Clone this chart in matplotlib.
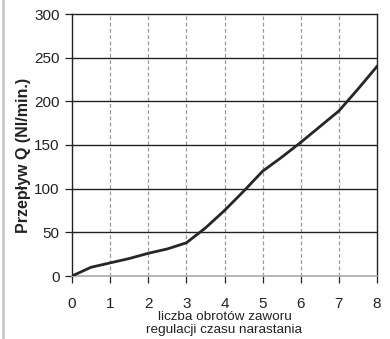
import matplotlib
matplotlib.use("Agg")
import matplotlib.pyplot as plt
from matplotlib.lines import Line2D

plt.rcParams['font.family'] = ['Liberation Sans', 'DejaVu Sans']

obroty = [0, 0.5, 1, 1.5, 2, 2.5, 3, 3.5, 4, 4.5, 5, 5.5, 6, 6.5, 7, 7.5, 8]
przeplyw = [0, 10, 15, 20, 26, 31, 38, 55, 75, 97, 120, 136, 153, 171, 189, 214, 240]
x_ticks = [0, 1, 2, 3, 4, 5, 6, 7, 8]
y_ticks = [0, 50, 100, 150, 200, 250, 300]

fig = plt.figure(figsize=(3.9, 3.39), dpi=100)
ax = fig.add_axes([72/390, 63/339, 305/390, 262/339])

ax.set_xlim(0, 8)
ax.set_ylim(0, 300)
for xv in x_ticks[1:-1]:
    ax.axvline(xv, color='#9a9a9a', lw=0.9, ls=(0, (3, 2)), zorder=1)
for yv in y_ticks[1:-1]:
    ax.axhline(yv, color='#222222', lw=1.0, zorder=1)

ax.plot(obroty, przeplyw, color='#262626', lw=2.0, zorder=3, solid_joinstyle='round')

ax.set_xticks(x_ticks)
ax.set_yticks(y_ticks)
ax.tick_params(axis='both', direction='out', length=5, width=0.9, colors='#222222',
               labelsize=11, labelcolor='#222222')
ax.tick_params(axis='x', pad=10)
ax.tick_params(axis='y', pad=4)

for side in ['left', 'right', 'top']:
    ax.spines[side].set_color('#222222')
    ax.spines[side].set_linewidth(1.0)
ax.spines['bottom'].set_color('#aaaaaa')
ax.spines['bottom'].set_linewidth(1.2)

ax.set_xlabel('liczba obrotów zaworu\nregulacji czasu narastania', fontsize=9.7,
              color='#222222', linespacing=1.2)
ax.xaxis.set_label_coords(0.5, -0.132)
ax.set_ylabel('Przepływ Q (Nl/min.)', fontsize=11.5, fontweight='bold', color='#222222')
ax.yaxis.set_label_coords(-0.133, 0.462)

fig.add_artist(Line2D([2.5/390, 2.5/390], [0, 1], transform=fig.transFigure,
                      color='#c8c8c8', lw=2))

fig.savefig('out.png', dpi=100)
